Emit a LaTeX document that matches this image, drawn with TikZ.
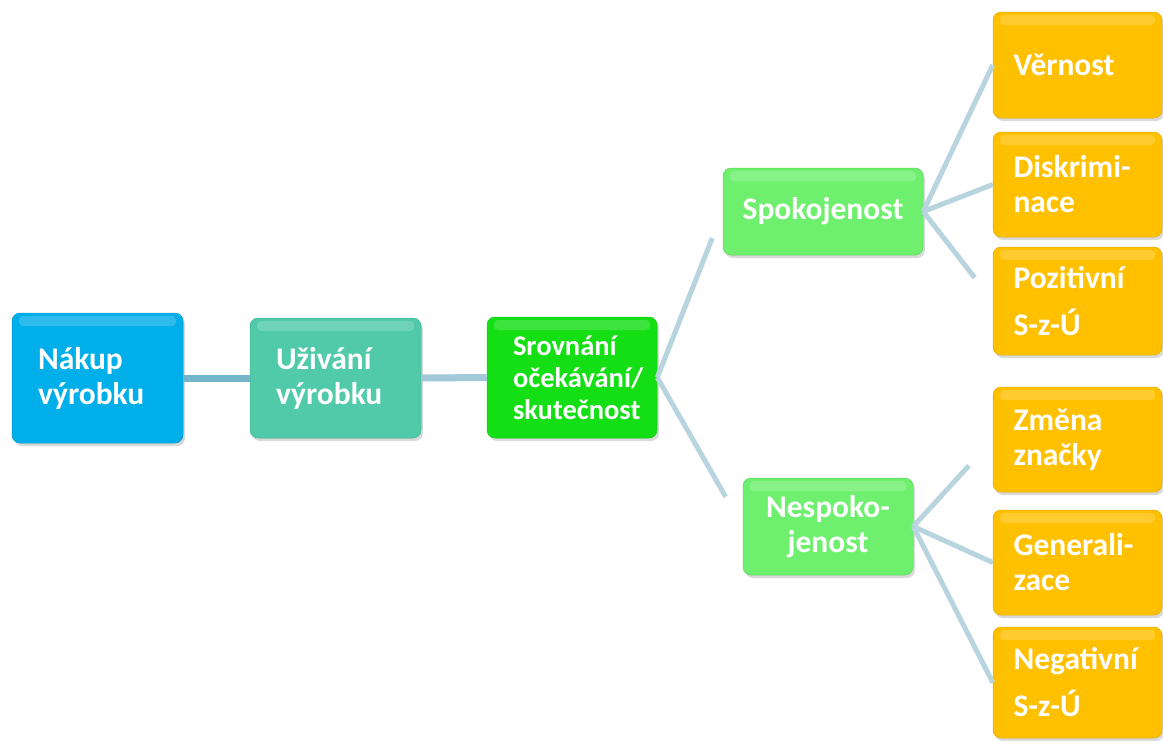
\documentclass[tikz,border=0pt]{standalone}
\usepackage{fontspec}
\setmainfont{Carlito}
\usetikzlibrary{calc,shadows}

\definecolor{modra}{HTML}{00AEEA}
\definecolor{tyrkys}{HTML}{50CAA8}
\definecolor{zelena}{HTML}{14DF14}
\definecolor{svzelena}{HTML}{6EF06E}
\definecolor{oranz}{HTML}{FFC000}
\definecolor{spoj}{HTML}{B7D4DF}
\definecolor{spojA}{HTML}{74B5CB}
\definecolor{spojB}{HTML}{A2C9D9}

\tikzset{
  krabice/.style={rounded corners=8pt, draw=#1!88!black, line width=.5pt, fill=#1,
    text=white, font=\fontsize{31.5}{35}\selectfont\bfseries, align=left,
    inner xsep=26pt, inner ysep=0pt,
    drop shadow={shadow xshift=2pt, shadow yshift=-3pt, opacity=.3},
    path picture={\fill[white,opacity=.18,rounded corners=4pt]
      ([xshift=7pt,yshift=-3pt]path picture bounding box.north west) rectangle
      ([xshift=-7pt,yshift=-13pt]path picture bounding box.north east);}},
  lista/.style={krabice=oranz, text width=128pt, inner xsep=20.5pt},
  vetev/.style={draw=spoj, line width=5pt}
}

\begin{document}
\begin{tikzpicture}[x=1pt,y=-1pt]
  \useasboundingbox (0,0) rectangle (1163,740);
  % hlavni retez
  \node[krabice=modra, text width=119pt, minimum height=130pt] (nakup) at (97.5,378) {Nákup\\výrobku};
  \node[krabice=tyrkys, text width=119pt, minimum height=120pt] (uzivani) at (335.5,378) {Uživání\\výrobku};
  \node[krabice=zelena, text width=118pt, minimum height=121pt,
    font=\fontsize{28.5}{32}\selectfont\bfseries] (srovnani) at (572,377.5) {Srovnání\\očekávání/\\skutečnost};
  % druha uroven
  \node[krabice=svzelena, text width=176pt, inner xsep=12pt, minimum height=87pt, align=center] (spokoj) at (823,211.5) {Spokojenost};
  \node[krabice=svzelena, text width=130pt, inner xsep=20pt, minimum height=97pt, align=center] (nespokoj) at (828,526.5) {Nespoko-\\jenost};
  % treti uroven
  \node[lista, minimum height=106pt] (vernost) at (1077.5,65) {Věrnost};
  \node[lista, minimum height=105pt] (diskrim) at (1077.5,184.5) {Diskrimi-\\nace};
  \node[lista, minimum height=108pt] (pozit) at (1077.5,301) {Pozitivní\\[12pt]S-z-Ú};
  \node[lista, minimum height=105pt] (zmena) at (1077.5,439.5) {Změna\\značky};
  \node[lista, minimum height=105pt] (general) at (1077.5,562.5) {Generali-\\zace};
  \node[lista, minimum height=111pt] (negat) at (1077.5,682.5) {Negativní\\[12pt]S-z-Ú};

  \draw[spojA, line width=7pt] (nakup.east) -- (uzivani.west);
  \draw[spojB, line width=7pt] (uzivani.east) -- (srovnani.west);
  \draw[vetev] (srovnani.east) -- ($(srovnani.east)!.84!(spokoj.west)$);
  \draw[vetev] (srovnani.east) -- ($(srovnani.east)!.8!(nespokoj.west)$);
  \foreach \cil/\kus in {vernost/1, diskrim/1, pozit/.74}
    \draw[vetev] (spokoj.east) -- ($(spokoj.east)!\kus!(\cil.west)$);
  \foreach \cil/\kus in {zmena/.7, general/1, negat/1}
    \draw[vetev] (nespokoj.east) -- ($(nespokoj.east)!\kus!(\cil.west)$);
\end{tikzpicture}
\end{document}
